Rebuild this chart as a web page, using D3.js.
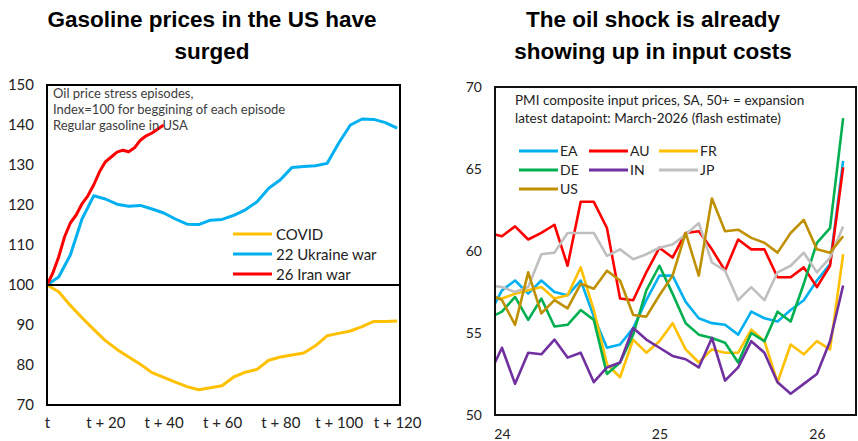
<!DOCTYPE html>
<html><head><meta charset="utf-8">
<script src="https://cdn.jsdelivr.net/npm/d3@7/dist/d3.min.js"></script>
<style>
body{margin:0;background:#fff;}
svg{display:block;}
.title{font-family:"Liberation Sans",Arial,sans-serif;font-weight:bold;font-size:22.5px;fill:#000;}
.lbl{font-family:Lato,"Open Sans",sans-serif;fill:#222;}
</style></head><body>
<svg id="c" width="858" height="441"></svg>
<script>
// ---------- LEFT CHART DATA ----------
const leftTitle = ["Gasoline prices in the US have", "surged"];
const leftNote = ["Oil price stress episodes,", "Index=100 for beggining of each episode", "Regular gasoline in USA"];
const leftYTicks = [70, 80, 90, 100, 110, 120, 130, 140, 150];
const leftXTicks = [0, 20, 40, 60, 80, 100, 120];
const leftXLabels = ["t", "t + 20", "t + 40", "t + 60", "t + 80", "t + 100", "t + 120"];
const stepsLong = [0,4,8,12,16,20,24,28,32,36,40,44,48,52,56,60,64,68,72,76,80,84,88,92,96,100,104,108,112,116,120];
const stepsIran = [0,2,4,6,8,10,12,14,16,18,20,22,24,26,28,30,32,34,36,38,40];
const covid = [100,98.3,94.9,91.8,88.9,86.1,83.9,82,80.2,78.1,76.9,75.7,74.6,73.8,74.3,74.8,77,78.2,78.9,81.2,82,82.5,83,84.8,87.3,87.9,88.5,89.6,90.9,90.9,91];
const ukraine = [100,102,107.5,116.5,122.3,121.5,120.2,119.7,119.9,119,118,116.5,115.2,115.1,116.2,116.4,117.4,118.8,120.8,124.2,126.3,129.4,129.6,129.8,130.4,135.5,140,141.5,141.4,140.6,139.2];
const iran = [100,103,107,112,115.5,117.5,120.3,122.3,125,128.3,130.8,132,133.2,133.7,133.3,134.3,136.2,137.3,138,139,140];
const leftSeriesNames = ["COVID", "22 Ukraine war", "26 Iran war"];
const leftColors = ["#FFC000", "#00B0F0", "#FF0000"];

// ---------- RIGHT CHART DATA ----------
const rightTitle = ["The oil shock is already", "showing up in input costs"];
const rightNote = ["PMI composite input prices, SA, 50+ = expansion", "latest datapoint: March-2026 (flash estimate)"];
const rightYTicks = [50, 55, 60, 65, 70];
const rightXTicks = [0, 12, 24];
const rightXLabels = ["24", "25", "26"];
// month index: -1 = Dec-2023, 0 = Jan-2024 ... 26 = Mar-2026
const months = d3.range(-1, 27);
const EA = [56.1,57.6,58.2,57.4,58.2,57.5,57.3,58.2,56.0,54.1,54.3,55.3,57.0,58.5,58.5,56.9,55.9,55.6,55.5,54.9,56.3,55.9,55.7,56.4,57.0,58.2,59.2,65.5];
const AU = [61.1,60.9,61.5,60.7,61.1,61.6,59.1,63.0,63.0,61.4,57.1,57.0,58.7,60.2,59.6,61.1,61.2,60.1,58.8,60.7,60.1,60.1,58.4,58.4,59.0,57.8,59.1,65.1];
const FR = [57.2,57.1,57.4,57.6,57.8,57.1,57.3,59.0,56.4,53.1,52.3,54.6,53.8,54.5,55.6,54.0,53.2,54.0,53.8,53.8,55.2,54.5,52.0,54.3,53.7,54.5,54.0,59.8];
const DE = [55.9,56.3,57.2,55.8,57.1,55.4,55.5,56.4,55.8,52.5,53.2,54.9,57.6,59.1,57.4,55.6,54.9,54.7,54.4,53.2,55.0,54.5,56.3,55.7,58.0,60.5,61.4,68.1];
const IN = [52.4,54.1,51.9,53.8,53.7,54.6,53.5,53.8,52.0,52.9,53.2,55.3,54.6,54.1,53.6,53.4,52.9,54.7,52.1,52.9,54.5,53.8,52.0,51.3,51.9,52.5,54.5,57.9];
const JP = [57.9,57.8,57.5,57.8,59.8,59.9,61.1,61.1,61.1,59.7,60.1,59.5,59.8,60.2,60.4,61.0,61.7,59.3,58.8,57.0,57.8,57.0,58.7,59.1,59.9,58.7,59.6,61.5];
const US = [57.4,57.0,55.5,58.7,56.2,57.0,56.5,58.0,57.7,58.8,58.2,56.1,56.0,57.3,58.5,61.1,58.5,63.2,61.2,61.3,60.8,60.5,59.9,61.1,61.9,60.1,59.9,60.9];
const rightNames = ["EA", "AU", "FR", "DE", "IN", "JP", "US"];
const rightColors = ["#00B0F0", "#FF0000", "#FFC000", "#00B050", "#7030A0", "#BFBFBF", "#BF9000"];

const svg = d3.select("#c");

// ================= LEFT =================
(function(){
  const x = d3.scaleLinear().domain([0, 121]).range([47, 400]);
  const y = d3.scaleLinear().domain([70, 150]).range([405, 85]);
  const g = svg.append("g");
  g.selectAll("text.t").data(leftTitle).join("text").attr("class","title")
    .attr("x", 212).attr("y", (d,i)=>27 + i*32).attr("text-anchor","middle").text(d=>d);

  const yAx = g.append("g").attr("transform", `translate(${x.range()[0]},0)`)
    .call(d3.axisLeft(y).tickValues(leftYTicks).tickSize(0).tickPadding(13));
  yAx.select(".domain").remove();
  yAx.selectAll("text").attr("class","lbl").style("font-size","15px").attr("font-family",null);

  const xAx = g.append("g").attr("transform", `translate(0,${y.range()[0]})`)
    .call(d3.axisBottom(x).tickValues(leftXTicks).tickFormat((d,i)=>leftXLabels[i]).tickSize(0).tickPadding(12));
  xAx.select(".domain").remove();
  xAx.selectAll("text").attr("class","lbl").style("font-size","15px").attr("font-family",null);

  const line = d3.line().x(d=>x(d[0])).y(d=>y(d[1]));
  const series = [d3.zip(stepsLong, covid), d3.zip(stepsLong, ukraine), d3.zip(stepsIran, iran)];
  series.forEach((s,i)=>{
    g.append("path").datum(s).attr("d", line).attr("fill","none")
      .attr("stroke", leftColors[i]).attr("stroke-width", 3).attr("stroke-linejoin","round");
  });
  // index=100 reference line
  g.append("line").attr("x1", x.range()[0]).attr("x2", x.range()[1]).attr("y1", y(100)).attr("y2", y(100))
    .attr("stroke","#000").attr("stroke-width",2);
  g.append("rect").attr("x", x.range()[0]).attr("y", y.range()[1])
    .attr("width", x.range()[1]-x.range()[0]).attr("height", y.range()[0]-y.range()[1])
    .attr("fill","none").attr("stroke","#000").attr("stroke-width",2);

  g.selectAll("text.note").data(leftNote).join("text").attr("class","lbl note")
    .attr("x", 53).attr("y", (d,i)=>98 + i*16).style("font-size","13px").style("fill","#404040").text(d=>d);

  const lg = g.append("g");
  leftSeriesNames.forEach((n,i)=>{
    const yy = 234 + i*20;
    lg.append("line").attr("x1",233).attr("x2",272).attr("y1",yy).attr("y2",yy)
      .attr("stroke",leftColors[i]).attr("stroke-width",3);
    lg.append("text").attr("class","lbl").attr("x",276).attr("y",yy+5.5).style("font-size","15px").text(n);
  });
})();

// ================= RIGHT =================
(function(){
  const x = d3.scaleLinear().domain([-0.53, 26.98]).range([495, 856]);
  const y = d3.scaleLinear().domain([50, 70]).range([415, 87]);
  const g = svg.append("g");
  g.selectAll("text.t").data(rightTitle).join("text").attr("class","title")
    .attr("x", 653).attr("y", (d,i)=>27 + i*32).attr("text-anchor","middle").text(d=>d);

  const yAx = g.append("g").attr("transform", `translate(${x.range()[0]},0)`)
    .call(d3.axisLeft(y).tickValues(rightYTicks).tickSize(0).tickPadding(13));
  yAx.select(".domain").remove();
  yAx.selectAll("text").attr("class","lbl").style("font-size","14px").attr("font-family",null);

  const xAx = g.append("g").attr("transform", `translate(0,${y.range()[0]})`)
    .call(d3.axisBottom(x).tickValues(rightXTicks).tickFormat((d,i)=>rightXLabels[i]).tickSize(0).tickPadding(14));
  xAx.select(".domain").remove();
  xAx.selectAll("text").attr("class","lbl").style("font-size","14px").attr("font-family",null);

  svg.append("defs").append("clipPath").attr("id","rclip").append("rect")
    .attr("x", x.range()[0]).attr("y", y.range()[1])
    .attr("width", x.range()[1]-x.range()[0]).attr("height", y.range()[0]-y.range()[1]);

  const line = d3.line().x(d=>x(d[0])).y(d=>y(d[1]));
  const all = [EA, AU, FR, DE, IN, JP, US];
  const pg = g.append("g").attr("clip-path","url(#rclip)");
  all.forEach((s,i)=>{
    pg.append("path").datum(d3.zip(months, s)).attr("d", line).attr("fill","none")
      .attr("stroke", rightColors[i]).attr("stroke-width", 2.6).attr("stroke-linejoin","round");
  });
  g.append("rect").attr("x", x.range()[0]).attr("y", y.range()[1])
    .attr("width", x.range()[1]-x.range()[0]).attr("height", y.range()[0]-y.range()[1])
    .attr("fill","none").attr("stroke","#111").attr("stroke-width",2);

  g.selectAll("text.note").data(rightNote).join("text").attr("class","lbl note")
    .attr("x", 515).attr("y", (d,i)=>105 + i*18).style("font-size","13.5px").style("fill","#222").text(d=>d);

  rightNames.forEach((n,i)=>{
    const col = i % 3, row = Math.floor(i/3);
    const x0 = 519 + col*70, yy = 151 + row*19;
    g.append("line").attr("x1",x0).attr("x2",x0+39).attr("y1",yy).attr("y2",yy)
      .attr("stroke",rightColors[i]).attr("stroke-width",3);
    g.append("text").attr("class","lbl").attr("x",x0+41).attr("y",yy+5).style("font-size","14px").text(n);
  });
})();
</script>
</body></html>
